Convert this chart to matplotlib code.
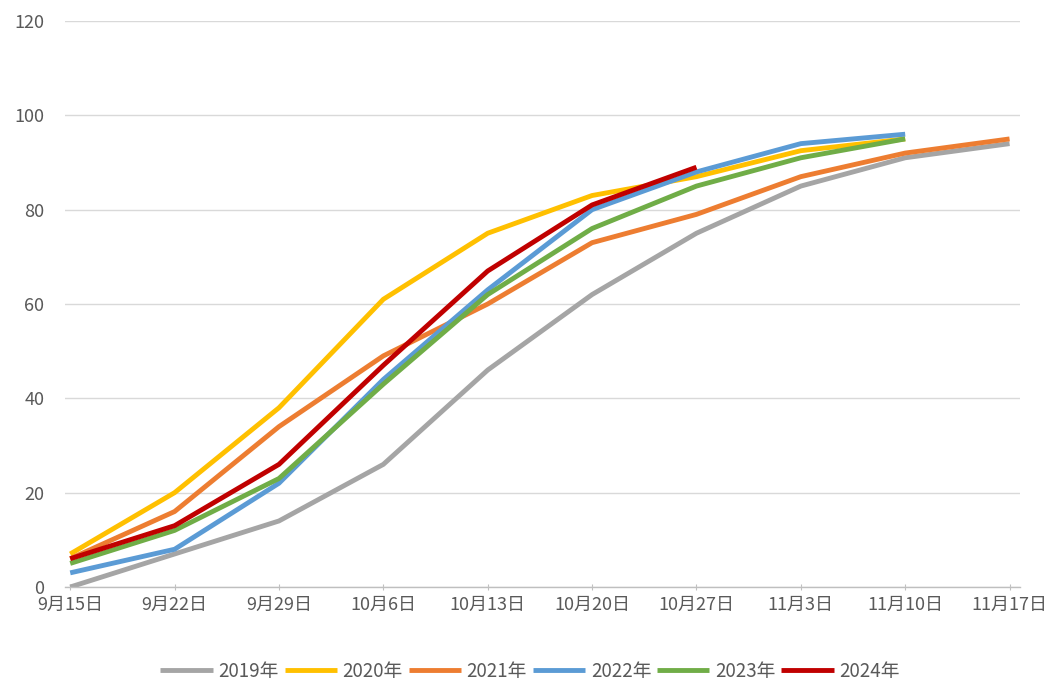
import matplotlib
matplotlib.use("Agg")
import matplotlib.pyplot as plt

plt.rcParams['font.family'] = ['Noto Sans CJK SC', 'DejaVu Sans']

categories = ["9月15日", "9月22日", "9月29日", "10月6日", "10月13日", "10月20日",
              "10月27日", "11月3日", "11月10日", "11月17日"]

y2019 = [0, 7, 14, 26, 46, 62, 75, 85, 91, 94]
y2020 = [7, 20, 38, 61, 75, 83, 87, 92.5, 95]
y2021 = [6, 16, 34, 49, 60, 73, 79, 87, 92, 95]
y2022 = [3, 8, 22, 44, 63, 80, 88, 94, 96]
y2023 = [5, 12, 23, 43, 62, 76, 85, 91, 95]
y2024 = [6, 13, 26, 47, 67, 81, 89]

series_names = ["2019年", "2020年", "2021年", "2022年", "2023年", "2024年"]
series_vals = [y2019, y2020, y2021, y2022, y2023, y2024]
colors = ["#A5A5A5", "#FFC000", "#ED7D31", "#5B9BD5", "#70AD47", "#C00000"]
yticks = [0, 20, 40, 60, 80, 100, 120]

fig = plt.figure(figsize=(10.61, 6.86), dpi=100)
ax = fig.add_axes([65/1061, 1-587/686, (1020-65)/1061, (587-21)/686])

for name, vals, c in zip(series_names, series_vals, colors):
    ax.plot(range(len(vals)), vals, color=c, lw=3.5, label=name,
            solid_joinstyle='round', solid_capstyle='butt')

ax.set_ylim(0, 120)
ax.set_xlim(-0.05, 9.1)
ax.set_yticks(yticks)
ax.set_xticks(range(len(categories)))
ax.set_xticklabels(categories)
ax.grid(axis='y', color='#D9D9D9', lw=1)
ax.set_axisbelow(True)
for s in ['top', 'right', 'left']:
    ax.spines[s].set_visible(False)
ax.spines['bottom'].set_color('#BFBFBF')
ax.spines['bottom'].set_linewidth(1)
ax.tick_params(axis='y', length=0, pad=15, labelsize=13, labelcolor='#595959')
ax.tick_params(axis='x', length=5, direction='inout', color='#BFBFBF', pad=4,
               labelsize=13, labelcolor='#595959')

leg = fig.legend(loc='center', bbox_to_anchor=(530/1061, 1-671/686), ncol=6,
                 frameon=False, fontsize=13.5, handlelength=2.8, handletextpad=0.3,
                 columnspacing=0.3)
for t in leg.get_texts():
    t.set_color('#595959')

fig.savefig("out.png", dpi=100)
